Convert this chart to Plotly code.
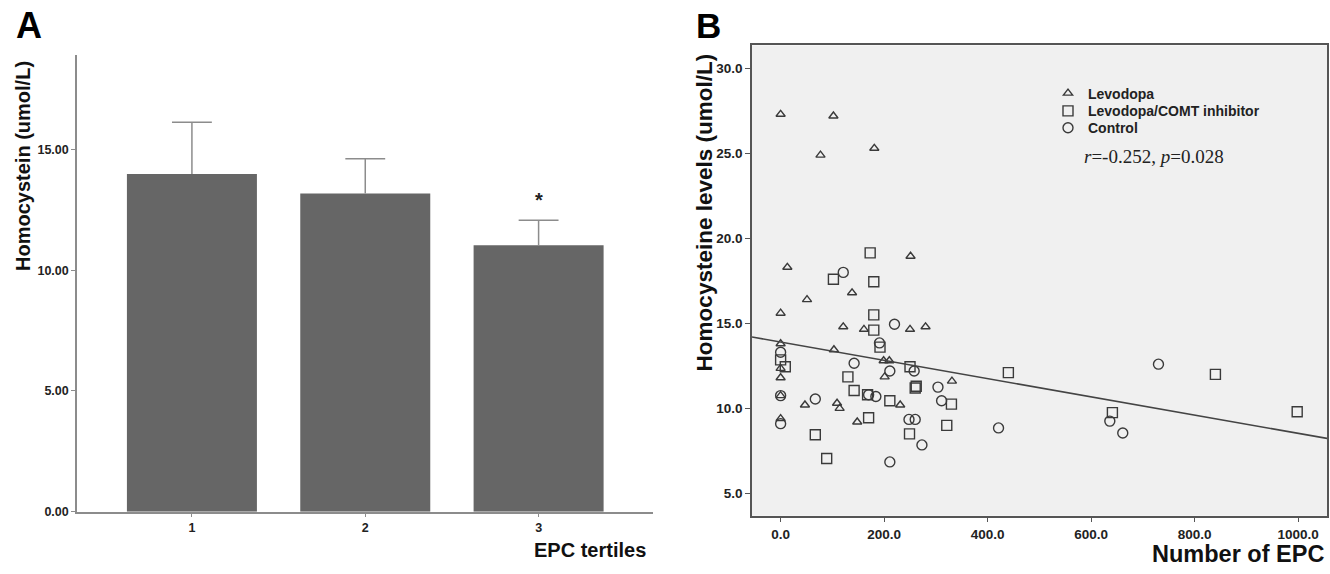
import plotly.graph_objects as go

# ---------------- Panel A data ----------------
tertiles = [1, 2, 3]
tertile_means = [13.99, 13.18, 11.03]
tertile_err = [2.14, 1.44, 1.04]

# ---------------- Panel B data ----------------
lev_x = [0, 102, 77, 181, 251, 13, 138, 51, 0, 121, 161, 250, 280, 0, 103, 199, 210,
         0, 201, 0, 331, 0, 47, 109, 114, 231, 148, 0]
lev_y = [27.3, 27.2, 24.9, 25.3, 18.95, 18.3, 16.8, 16.4, 15.6, 14.8, 14.65, 14.65, 14.8,
         13.8, 13.45, 12.8, 12.8, 12.35, 11.85, 11.8, 11.6, 10.75, 10.2, 10.3, 10.0, 10.2, 9.2, 9.4]

comt_x = [173, 102, 180, 180, 180, 192, 0, 9, 250, 130, 260, 262, 142, 168, 211, 330, 170,
          321, 67, 249, 89, 440, 641, 840, 998]
comt_y = [19.15, 17.6, 17.45, 15.5, 14.6, 13.6, 12.85, 12.45, 12.45, 11.85, 11.2, 11.3, 11.05,
          10.8, 10.45, 10.25, 9.45, 9.0, 8.45, 8.5, 7.05, 12.1, 9.75, 12.0, 9.8]

ctrl_x = [121, 220, 191, 0, 142, 211, 258, 304, 0, 67, 170, 184, 311, 0, 248, 260, 273, 211,
          421, 636, 661, 730]
ctrl_y = [18.0, 14.95, 13.85, 13.3, 12.65, 12.2, 12.2, 11.25, 10.75, 10.55, 10.8, 10.7, 10.45,
          9.1, 9.35, 9.35, 7.85, 6.85, 8.85, 9.25, 8.55, 12.6]

fit_intercept = 13.9
fit_slope = -0.00537
fit_x = [-55.3, 1055.6]

W, H = 1330, 574
NARROW = "Liberation Sans Narrow, Arial Narrow, Arial, sans-serif"
ARIAL = "Liberation Sans, Arial, sans-serif"

fig = go.Figure()

# Panel A bars
fig.add_trace(go.Bar(
    x=tertiles, y=tertile_means, width=0.75,
    marker=dict(color="#666666", line=dict(width=0)),
    xaxis="x", yaxis="y", showlegend=False,
))

# one-sided error bars (upper only, cap on top)
cap = 0.115
ex, ey = [], []
for t, m, e in zip(tertiles, tertile_means, tertile_err):
    ex += [t, t, None, t - cap, t + cap, None]
    ey += [m, m + e, None, m + e, m + e, None]
fig.add_trace(go.Scatter(
    x=ex, y=ey, mode="lines", line=dict(color="#8c8c8c", width=1.5),
    xaxis="x", yaxis="y", showlegend=False, hoverinfo="skip",
))

# Panel B scatter
mk_line = dict(color="#3a3a3a", width=1.4)
fig.add_trace(go.Scatter(
    x=lev_x, y=lev_y, mode="markers", name="Levodopa", legend="legend",
    marker=dict(symbol="triangle-up-open", size=8, color="#3a3a3a", line=mk_line),
    xaxis="x2", yaxis="y2",
))
fig.add_trace(go.Scatter(
    x=comt_x, y=comt_y, mode="markers", name="Levodopa/COMT inhibitor", legend="legend2",
    marker=dict(symbol="square-open", size=10, color="#3a3a3a", line=mk_line),
    xaxis="x2", yaxis="y2",
))
fig.add_trace(go.Scatter(
    x=ctrl_x, y=ctrl_y, mode="markers", name="Control", legend="legend3",
    marker=dict(symbol="circle-open", size=10, color="#3a3a3a", line=mk_line),
    xaxis="x2", yaxis="y2",
))
fig.add_trace(go.Scatter(
    x=fit_x, y=[fit_intercept + fit_slope * v for v in fit_x], mode="lines",
    line=dict(color="#444444", width=1.6), showlegend=False, hoverinfo="skip",
    xaxis="x2", yaxis="y2",
))

tickfontA = dict(family=NARROW, size=12.5, color="#222222", weight="bold")
tickfontB = dict(family=NARROW, size=13.5, color="#222222", weight="bold")
legfont = dict(family=ARIAL, size=14, color="#222222", weight="bold")

def leg(top_px):
    return dict(x=1048 / W, y=(H - top_px) / H, xanchor="left", yanchor="top",
                bgcolor="rgba(0,0,0,0)", borderwidth=0, font=legfont)

fig.update_layout(
    width=W, height=H,
    margin=dict(l=0, r=0, t=0, b=0),
    paper_bgcolor="white",
    plot_bgcolor="white",
    xaxis=dict(
        domain=[77 / W, 653 / W], range=[0.337, 3.66], anchor="y",
        tickvals=tertiles, ticktext=[str(t) for t in tertiles],
        showline=True, linecolor="#8c8c8c", linewidth=1.5,
        ticks="outside", ticklen=4, tickcolor="#8c8c8c", tickwidth=1,
        showgrid=False, zeroline=False, tickfont=tickfontA,
    ),
    yaxis=dict(
        domain=[(H - 518) / H, (H - 56) / H], range=[0, 18.9], anchor="x",
        tickvals=[0, 5, 10, 15], tickformat=".2f",
        showline=True, linecolor="#8c8c8c", linewidth=1.5,
        ticks="outside", ticklen=4, tickcolor="#8c8c8c", tickwidth=1,
        showgrid=False, zeroline=False, tickfont=tickfontA,
    ),
    xaxis2=dict(
        domain=[752 / W, 1327 / W], range=[-55.3, 1055.6], anchor="y2",
        tickvals=[0, 200, 400, 600, 800, 1000], tickformat=".1f",
        showline=True, mirror=True, linecolor="#555555", linewidth=1.5,
        ticks="outside", ticklen=5, tickcolor="#555555", tickwidth=1,
        showgrid=False, zeroline=False, tickfont=tickfontB,
    ),
    yaxis2=dict(
        domain=[(H - 522) / H, (H - 46) / H], range=[3.69, 31.35], anchor="x2",
        tickvals=[5, 10, 15, 20, 25, 30], tickformat=".1f",
        showline=True, mirror=True, linecolor="#555555", linewidth=1.5,
        ticks="outside", ticklen=5, tickcolor="#555555", tickwidth=1,
        showgrid=False, zeroline=False, tickfont=tickfontB,
    ),
    legend=leg(78.5),
    legend2=leg(96.5),
    legend3=leg(113.5),
    shapes=[
        dict(type="rect", xref="x2 domain", yref="y2 domain", x0=0, x1=1, y0=0, y1=1,
             fillcolor="#f0f0f0", line=dict(width=0), layer="below"),
    ],
)

def px_ann(text, x, y, size, family=ARIAL, bold=True, xanchor="center", yanchor="middle",
           angle=0, color="#111111"):
    fig.add_annotation(
        text=text, x=x / W, y=(H - y) / H, xref="paper", yref="paper",
        xanchor=xanchor, yanchor=yanchor, textangle=angle, showarrow=False,
        font=dict(family=family, size=size, color=color, weight="bold" if bold else "normal"),
    )

px_ann("A", 14, 26, 36, xanchor="left", color="#000000")
px_ann("B", 694, 26, 35, xanchor="left", color="#000000")
px_ann("Homocystein (umol/L)", 23, 168, 20, angle=-90)
px_ann("EPC tertiles", 648, 557, 20, xanchor="right")
px_ann("Homocysteine levels (umol/L)", 704, 215, 22.5, angle=-90)
px_ann("Number of EPC", 1326, 561, 23.5, xanchor="right")
px_ann("<i>r</i>=-0.252, <i>p</i>=0.028", 1082, 158, 19, family="Liberation Serif, Times New Roman, serif",
       bold=False, xanchor="left", color="#222222")

# asterisk above bar 3
fig.add_annotation(text="*", x=3, y=12.9, xref="x", yref="y", showarrow=False,
                   font=dict(family=ARIAL, size=20, color="#222222", weight="bold"),
                   yanchor="middle")

fig.write_html("out.html")
